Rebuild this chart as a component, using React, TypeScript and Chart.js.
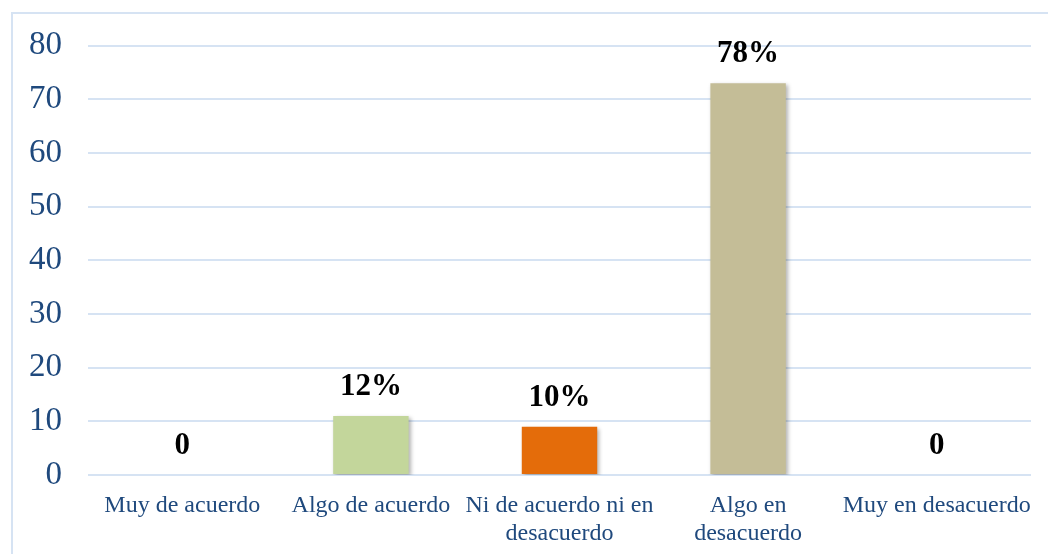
import React, { useEffect, useRef } from "react";
import { Chart, registerables } from "chart.js";

Chart.register(...registerables);

const categories: (string | string[])[] = [
  "Muy de acuerdo",
  "Algo de acuerdo",
  ["Ni de acuerdo ni en", "desacuerdo"],
  ["Algo en", "desacuerdo"],
  "Muy en desacuerdo",
];
const values = [0, 11, 9, 73, 0];
const valueLabels = ["0", "12%", "10%", "78%", "0"];
const barColors = ["#C3D69B", "#C3D69B", "#E46C0A", "#C4BD97", "#C3D69B"];
const yTicks = [0, 10, 20, 30, 40, 50, 60, 70, 80];

const FONT = "'Liberation Serif', 'Times New Roman', serif";

const frame = {
  id: "frame",
  beforeDraw(chart: any) {
    const ctx = chart.ctx;
    ctx.save();
    ctx.strokeStyle = "#D6E3F3";
    ctx.lineWidth = 2;
    ctx.beginPath();
    ctx.moveTo(12, chart.height);
    ctx.lineTo(12, 13);
    ctx.lineTo(chart.width, 13);
    ctx.stroke();
    ctx.restore();
  },
};

const shadow = {
  id: "shadow",
  beforeDatasetsDraw(chart: any) {
    const ctx = chart.ctx;
    ctx.save();
    ctx.shadowColor = "rgba(0,0,0,0.3)";
    ctx.shadowBlur = 4;
    ctx.shadowOffsetX = 2;
    ctx.shadowOffsetY = 2;
  },
  afterDatasetsDraw(chart: any) {
    chart.ctx.restore();
  },
};

const valueLabelPlugin = {
  id: "valueLabels",
  afterDatasetsDraw(chart: any) {
    const ctx = chart.ctx;
    const meta = chart.getDatasetMeta(0);
    ctx.save();
    ctx.font = `bold 31px ${FONT}`;
    ctx.fillStyle = "#000000";
    ctx.textAlign = "center";
    ctx.textBaseline = "middle";
    meta.data.forEach((bar: any, i: number) => {
      ctx.fillText(valueLabels[i], bar.x, bar.y - 29);
    });
    ctx.restore();
  },
};

export default function App() {
  const ref = useRef<HTMLCanvasElement>(null);
  useEffect(() => {
    if (!ref.current) return;
    const chart = new Chart(ref.current, {
      type: "bar",
      data: {
        labels: categories,
        datasets: [
          {
            data: values,
            backgroundColor: barColors,
            borderWidth: 0,
            barPercentage: 0.4,
            categoryPercentage: 1,
          },
        ],
      },
      options: {
        animation: false,
        responsive: false,
        devicePixelRatio: 1,
        layout: { padding: { top: 44, right: 17, left: 0, bottom: 0 } },
        plugins: {
          legend: { display: false },
          tooltip: { enabled: false },
        },
        scales: {
          x: {
            grid: { display: false },
            border: { display: false },
            ticks: {
              color: "#1F497D",
              font: { family: FONT, size: 24, lineHeight: 1.2 },
              padding: 8,
              maxRotation: 0,
              autoSkip: false,
            },
            afterFit(scale: any) {
              scale.height = 79;
            },
          },
          y: {
            min: 0,
            max: 80,
            afterBuildTicks(scale: any) {
              scale.ticks = yTicks.map((v) => ({ value: v }));
            },
            grid: { color: "#D6E3F3", lineWidth: 2, drawTicks: false },
            border: { display: false },
            ticks: {
              color: "#1F497D",
              font: { family: FONT, size: 33 },
              padding: 26,
            },
            afterFit(scale: any) {
              scale.width = 88;
            },
          },
        },
      },
      plugins: [frame, shadow, valueLabelPlugin],
    });
    return () => chart.destroy();
  }, []);
  return (
    <div style={{ position: "absolute", left: 0, top: 0, width: 1048, height: 554, background: "#fff" }}>
      <canvas ref={ref} width={1048} height={554} style={{ display: "block" }} />
    </div>
  );
}
